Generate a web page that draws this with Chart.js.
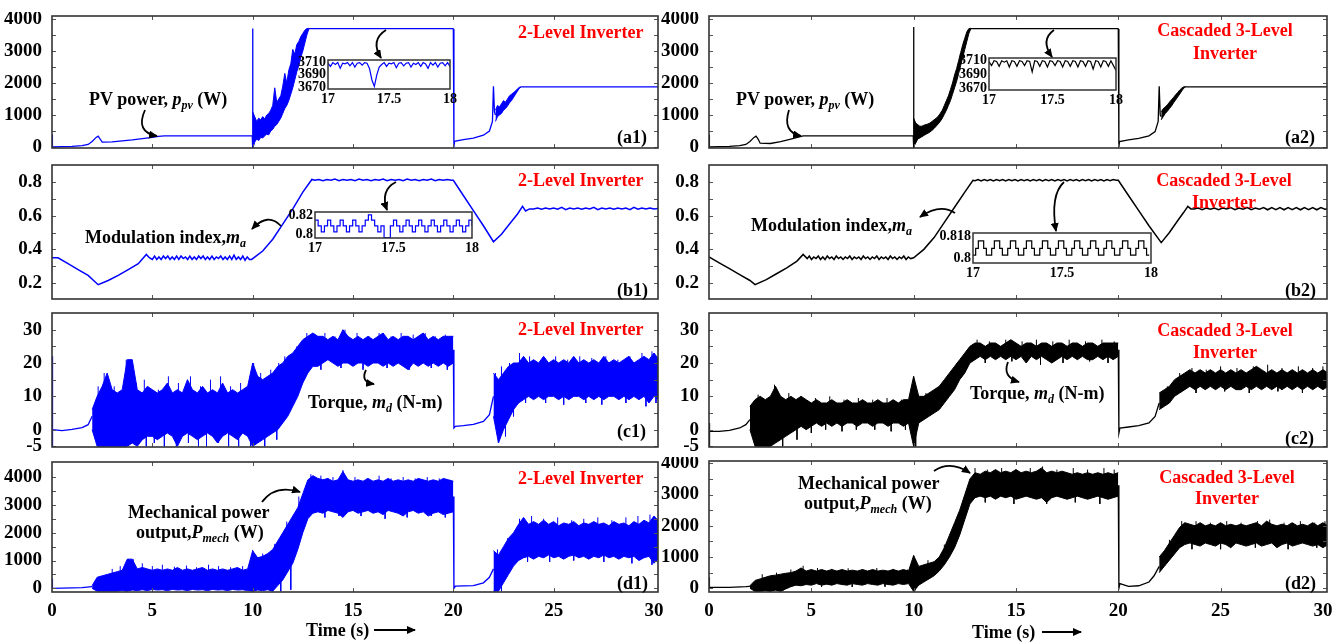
<!DOCTYPE html>
<html>
<head>
<meta charset="utf-8">
<script src="https://cdn.jsdelivr.net/npm/chart.js@4.4.1/dist/chart.umd.min.js"></script>
<style>
  body { margin: 0; background: #fff; }
  #fig { position: relative; width: 1338px; height: 642px; overflow: hidden;
         font-family: "Liberation Serif", "Times New Roman", serif; font-weight: bold; }
  #fig canvas { position: absolute; }
  .t { position: absolute; white-space: nowrap; transform: translateY(-50%); font-size: 18px; line-height: 1; color: #000; }
  .t.c { transform: translate(-50%, -50%); }
  .red { color: #ff0000; }
  .t i { font-style: italic; }
  .t sub { font-size: 12px; font-style: italic; vertical-align: -4px; line-height: 0; }
  #arrows { position: absolute; left: 0; top: 0; }
</style>
</head>
<body>
<div id="fig"></div>
<script>
function grid(start, step, n) {
  var a = [];
  for (var i = 0; i < n; i++) a.push(+(start + i * step).toFixed(3));
  return a;
}

// ---------- data ----------
var xTicks = [0, 5, 10, 15, 20, 25, 30];

// (a) PV power, W
var pvT1 = [0, 0.02, 0.5, 1, 1.5, 1.8, 2.0, 2.2, 2.3, 2.4, 2.5, 3, 3.5, 4, 4.5, 5, 5.3, 5.6, 9.98, 10.0, 10.01, 10.05, 11, 12.8, 19.98, 20.0, 20.03, 20.06, 20.5, 21, 21.5, 21.8, 21.95, 22.0, 22.05, 22.1, 23, 23.4, 30.3];
var pvP1 = [380, 0, 10, 20, 40, 80, 170, 300, 340, 250, 150, 160, 190, 220, 260, 300, 330, 350, 350, 3700, -80, 600, null, 3700, 3700, 3690, 0, 180, 230, 280, 370, 500, 800, 1900, 1100, 1000, null, 1880, 1880];
var pvBandT1 = grid(10.0, 0.1, 29);
var pvHi1 = [1100, 950, 800, 900, 850, 950, 880, 1000, 1050, 1150, 1300, 1850, 1400, 1500, 1600, 1900,
             2300, 2000, 2400, 2600, 3050, 2900, 3200, 3300, 3450, 3550, 3650, 3700, 3710];
var pvLo1 = [-80, 150, 250, 200, 300, 280, 350, 400, 380, 500, 550, 650, 700, 800, 900, 1050,
             1200, 1300, 1450, 1650, 1850, 2100, 2350, 2550, 2800, 3000, 3250, 3500, 3690];
var pvBandT1b = grid(22.1, 0.1, 14);
var pvHi1b = [1150, 1300, 1250, 1350, 1450, 1400, 1500, 1600, 1650, 1700, 1750, 1820, 1870, 1885];
var pvLo1b = [800, 950, 1000, 1050, 1150, 1200, 1280, 1380, 1450, 1550, 1650, 1750, 1840, 1880];

var pvT2 = [0, 0.02, 0.5, 1, 1.5, 1.8, 2.0, 2.2, 2.3, 2.4, 2.5, 3, 3.5, 4, 4.6, 9.98, 10.0, 10.01, 10.05, 11, 12.8, 19.98, 20.0, 20.03, 20.06, 20.5, 21, 21.5, 21.8, 21.95, 22.0, 22.05, 22.1, 23, 23.3, 30.3];
var pvP2 = [380, 0, 10, 20, 40, 80, 170, 300, 340, 250, 120, 110, 170, 250, 350, 350, 3750, -50, 500, null, 3700, 3700, 3690, 0, 170, 220, 270, 350, 480, 800, 1900, 1000, 950, null, 1880, 1880];
var pvBandT2 = grid(10.0, 0.1, 29);
var pvHi2 = [900, 750, 700, 650, 650, 680, 700, 720, 750, 800, 850, 900, 960, 1050, 1150, 1300,
             1450, 1600, 1800, 2000, 2250, 2450, 2700, 2950, 3200, 3400, 3600, 3700, 3710];
var pvLo2 = [0, 120, 250, 280, 320, 360, 400, 430, 470, 520, 580, 650, 720, 800, 900, 1020,
             1150, 1300, 1450, 1650, 1850, 2050, 2300, 2550, 2800, 3050, 3300, 3550, 3700];
var pvBandT2b = grid(22.1, 0.1, 13);
var pvHi2b = [1100, 1200, 1250, 1320, 1400, 1480, 1550, 1630, 1700, 1780, 1840, 1880, 1885];
var pvLo2b = [850, 950, 1050, 1120, 1200, 1280, 1380, 1470, 1560, 1650, 1750, 1840, 1880];

// zoom windows 17 s .. 18 s
var zoomT = grid(17, 0.02, 51);
var pvZoom1 = [3708, 3703, 3709, 3706, 3709, 3700, 3708, 3707, 3709, 3704,
               3709, 3702, 3708, 3709, 3705, 3709, 3708, 3700, 3682, 3672,
               3690, 3702, 3706, 3709, 3703, 3708, 3707, 3709, 3701, 3708,
               3709, 3704, 3708, 3709, 3702, 3708, 3706, 3709, 3703, 3709,
               3707, 3700, 3709, 3705, 3709, 3702, 3708, 3709, 3704, 3709, 3703];
var pvZoom2 = [3708, 3702, 3709, 3708, 3701, 3709, 3707, 3709, 3700, 3709,
               3708, 3701, 3709, 3708, 3702, 3709, 3708, 3693, 3709, 3708,
               3701, 3709, 3708, 3700, 3709, 3708, 3702, 3709, 3708, 3700,
               3709, 3708, 3701, 3709, 3708, 3700, 3709, 3708, 3701, 3709,
               3708, 3697, 3709, 3708, 3700, 3709, 3708, 3701, 3709, 3702, 3695];

// (b) modulation index
var maT1 = [].concat(
  [0, 0.3, 0.8, 1.3, 1.8, 2.3, 2.8, 3.3, 3.8, 4.3, 4.7, 4.85],
  grid(5.0, 0.11, 45),
  [9.95, 10.5, 11, 11.5, 12, 12.5, 12.95],
  grid(13.1, 0.2, 35),
  [20.0, 20.5, 21, 21.5, 22.0, 22.4, 22.8, 23.2, 23.45, 23.6, 23.8],
  grid(24.0, 0.2, 32), [30.3]);
var maV1 = [].concat(
  [0.35, 0.35, 0.315, 0.28, 0.245, 0.19, 0.215, 0.245, 0.28, 0.315, 0.37, 0.35],
  [0.34, 0.36, 0.34, 0.355, 0.34, 0.36, 0.345, 0.36, 0.34, 0.355,
   0.34, 0.36, 0.34, 0.36, 0.345, 0.355, 0.34, 0.36, 0.34, 0.355,
   0.34, 0.36, 0.345, 0.36, 0.34, 0.355, 0.34, 0.36, 0.34, 0.355,
   0.345, 0.36, 0.34, 0.355, 0.34, 0.36, 0.34, 0.365, 0.34, 0.355,
   0.34, 0.36, 0.335, 0.355, 0.34],
  [0.34, 0.39, 0.46, 0.55, 0.64, 0.74, 0.815],
  [0.81, 0.815, 0.808, 0.815, 0.81, 0.818, 0.808, 0.815, 0.81, 0.815,
   0.808, 0.817, 0.81, 0.815, 0.808, 0.815, 0.81, 0.818, 0.808, 0.815,
   0.81, 0.815, 0.808, 0.817, 0.81, 0.815, 0.808, 0.815, 0.81, 0.818,
   0.808, 0.815, 0.81, 0.815, 0.81],
  [0.81, 0.72, 0.63, 0.54, 0.445, 0.49, 0.55, 0.61, 0.655, 0.628, 0.64],
  [0.64, 0.645, 0.638, 0.645, 0.64, 0.645, 0.638, 0.65, 0.636, 0.645,
   0.64, 0.645, 0.638, 0.645, 0.64, 0.65, 0.636, 0.645, 0.64, 0.645,
   0.638, 0.645, 0.64, 0.645, 0.636, 0.65, 0.638, 0.645, 0.64, 0.645,
   0.64, 0.642], [0.64]);

var maT2 = [].concat(
  [0, 0.5, 1, 1.5, 2, 2.25, 2.8, 3.3, 3.8, 4.3, 4.6, 4.8],
  grid(4.9, 0.11, 46),
  [10.0, 10.5, 11, 11.5, 12, 12.5, 12.9],
  grid(13.0, 0.15, 47),
  [20.0, 20.5, 21, 21.5, 22.1, 22.5, 22.9, 23.2, 23.4, 23.55],
  grid(23.7, 0.2, 33), [30.3]);
var maV2 = [].concat(
  [0.355, 0.32, 0.285, 0.25, 0.215, 0.19, 0.22, 0.255, 0.29, 0.33, 0.37, 0.345],
  [0.36, 0.34, 0.355, 0.345, 0.36, 0.34, 0.355, 0.34, 0.36, 0.345,
   0.355, 0.34, 0.36, 0.345, 0.355, 0.34, 0.355, 0.345, 0.36, 0.34,
   0.355, 0.345, 0.355, 0.34, 0.36, 0.345, 0.355, 0.34, 0.355, 0.345,
   0.36, 0.34, 0.355, 0.345, 0.355, 0.34, 0.36, 0.345, 0.355, 0.34,
   0.355, 0.345, 0.36, 0.34, 0.355, 0.345],
  [0.35, 0.4, 0.47, 0.56, 0.65, 0.74, 0.81],
  [0.808, 0.815, 0.806, 0.814, 0.808, 0.815, 0.806, 0.814, 0.808, 0.815,
   0.806, 0.814, 0.808, 0.815, 0.806, 0.814, 0.808, 0.815, 0.806, 0.814,
   0.808, 0.815, 0.806, 0.814, 0.808, 0.815, 0.806, 0.814, 0.808, 0.815,
   0.806, 0.814, 0.808, 0.815, 0.806, 0.814, 0.808, 0.815, 0.806, 0.814,
   0.808, 0.815, 0.806, 0.814, 0.808, 0.815, 0.81],
  [0.81, 0.72, 0.63, 0.54, 0.44, 0.5, 0.57, 0.62, 0.655, 0.64],
  [0.64, 0.645, 0.636, 0.645, 0.638, 0.645, 0.636, 0.645, 0.64, 0.648,
   0.636, 0.645, 0.638, 0.648, 0.636, 0.645, 0.638, 0.648, 0.635, 0.648,
   0.636, 0.648, 0.635, 0.648, 0.636, 0.648, 0.635, 0.648, 0.636, 0.648,
   0.635, 0.648, 0.638], [0.64]);

var maZoom1 = [0.815, 0.809, 0.803, 0.809, 0.815, 0.809, 0.803, 0.809, 0.815, 0.809,
               0.803, 0.809, 0.815, 0.809, 0.803, 0.809, 0.815, 0.8205, 0.815, 0.809,
               0.803, 0.809, 0.797, 0.797, 0.809, 0.815, 0.809, 0.803, 0.809, 0.815,
               0.809, 0.803, 0.809, 0.815, 0.809, 0.803, 0.809, 0.815, 0.809, 0.803,
               0.809, 0.815, 0.809, 0.803, 0.809, 0.815, 0.809, 0.803, 0.809, 0.815, 0.809];
var zoomT2 = grid(17, 0.015, 67);
var maZoom2 = [0.8025, 0.808, 0.814, 0.814, 0.808, 0.8025, 0.8025, 0.808, 0.814, 0.814, 0.808, 0.8025,
               0.8025, 0.808, 0.814, 0.814, 0.808, 0.8025, 0.8025, 0.808, 0.814, 0.814, 0.808, 0.8025,
               0.8025, 0.808, 0.814, 0.814, 0.808, 0.8025, 0.8025, 0.808, 0.814, 0.814, 0.808, 0.8025,
               0.8025, 0.808, 0.814, 0.814, 0.808, 0.8025, 0.8025, 0.808, 0.814, 0.814, 0.808, 0.8025,
               0.8025, 0.808, 0.814, 0.814, 0.808, 0.8025, 0.8025, 0.808, 0.814, 0.814, 0.808, 0.8025,
               0.8025, 0.808, 0.814, 0.814, 0.808, 0.8025, 0.8025];

// noisy stretches: envelope (upper / lower) of the ripple
var tA = grid(2.0, 0.25, 73);   // 2 s .. 20 s
var tB = grid(22.0, 0.25, 34);  // 22 s .. 30.25 s

// (c) torque, N-m
var tqT1 = [0, 0.01, 0.04, 0.5, 1, 1.5, 1.8, 2.0, 10, 20.0, 20.03, 20.1, 20.5, 21, 21.5, 21.8, 22.0];
var tqV1 = [22, -5, 0, -0.3, 0.1, 0.6, 1.5, 4, null, 24, 0.5, 1, 1.2, 1.6, 2.5, 4.5, 10];
var tqHiA1 = [6, 10, 13, 17, 12, 11, 12, 21,  21, 12, 11, 13, 12, 11, 12, 14,
              11, 12, 11, 15, 12, 11, 13, 11,  12, 11, 14, 11, 12, 11, 12, 13,
              20, 16, 15, 16, 17, 19, 20, 22,  23, 25, 27, 28, 29, 28, 28, 27,
              28, 27, 30, 28, 27, 28, 27, 28,  27, 28, 29, 27, 28, 27, 28, 28,
              27, 28, 29, 27, 28, 27, 28, 28,  28];
var tqLoA1 = [0, -5, -5, -5, -5, -5, -5, -5,  -4, -5, -3, -2, -2, -3, -2, -1,
              -2, -5, -2, -1, -2, -3, -2, -1,  -2, -4, -2, -1, -2, -3, -1, -2,
              -5, -4, -3, -2, -1, 0, 2, 4,  7, 10, 14, 17, 19, 19, 20, 21,
              20, 19, 20, 20, 19, 20, 20, 19,  20, 20, 19, 20, 19, 20, 19, 18,
              20, 19, 20, 19, 20, 19, 20, 19,  20];
var tqHiB1 = [17, 15, 17, 19, 20, 20, 22, 20,  21, 20, 22, 20, 21, 20, 21, 20,
              22, 20, 21, 20, 21, 20, 22, 20,  21, 20, 21, 22, 20, 21, 22, 21,  23, 21];
var tqLoB1 = [4, -4, 0, 3, 6, 8, 9, 10,  9, 10, 9, 10, 10, 9, 10, 9,
              10, 10, 9, 10, 9, 10, 9, 10,  10, 9, 10, 9, 10, 9, 10, 8,  10, 9];
var tqSpkT1 = [2.3, 2.6, 3.1, 3.7, 3.95, 4.2, 4.6, 5.3, 5.8, 6.3, 6.9, 7.4, 7.9, 8.4, 8.9, 9.4, 9.8, 10.05, 10.4, 10.9,
               11.3, 11.6, 12.2, 12.7, 13.2, 13.6, 14.1, 14.6, 15.2, 15.8, 16.3, 16.9, 17.4, 18.0, 18.6, 19.1, 19.6, 22.1, 22.4, 22.8,
               23.3, 23.8, 24.4, 25.1, 25.7, 26.3, 26.9, 27.6, 28.2, 28.8, 29.4, 29.9,
               4.7, 5.1, 5.6, 6.2, 6.8, 7.3, 7.7, 8.3, 8.8, 9.3, 9.9, 10.6, 11.2, 13.4, 14.4, 15.5, 16.7, 17.8, 18.9, 19.7,
               22.25, 22.6, 23.0, 23.6, 24.6, 25.5, 26.6, 27.4, 28.6, 29.6, 30.1];
var tqSpkV1 = [13, 17, 13, 21, 21, 14, 15, 12, 16, 14, 16, 13, 15, 16, 13, 14, 13, 20, 17, 18,
               20, 22, 25, 29, 28, 29, 28, 30, 29, 28, 29, 28, 29, 28.5, 29, 28, 28.5, 17, 19, 20,
               23, 22, 21, 22, 21, 22, 21.5, 22, 21, 22, 23, 23.5,
               -5, -4, -5, -5, -4, -5, -5, -4, -5, -5, -5, -5, -3, 18, 18.5, 18, 18.5, 18, 18.5, 18,
               -4, -2, 4, 8, 8, 7.5, 8, 7.5, 8, 7, 8];

var tqT2 = [0, 0.01, 0.04, 0.5, 1, 1.5, 1.8, 2.0, 10, 20.0, 20.03, 20.08, 20.5, 21, 21.5, 21.8, 22.0];
var tqV2 = [2, -5, -0.5, -0.5, -0.2, 0.5, 1.5, 3, null, 24, -1, 0.5, 0.8, 1.2, 2, 4, 8];
var tqHiA2 = [7, 9, 10, 9, 10, 13, 10, 9,  10, 9, 10, 9, 8, 9, 8, 8,
              9, 8, 8, 9, 8, 8, 9, 8,  8, 9, 8, 8, 9, 8, 9, 9,
              16, 10, 10, 11, 12, 13, 15, 17,  19, 21, 23, 25, 26, 26, 25, 26,
              26, 25, 26, 27, 26, 25, 26, 26,  25, 26, 26, 25, 26, 26, 25, 26,
              26, 25, 26, 26, 25, 26, 26, 26,  26];
var tqLoA2 = [0, -5, -5, -5, -5, -4, -3, -2,  -1, 0, 1, 0, 1, 2, 1, 2,
              1, 2, 1, 2, 2, 1, 2, 2,  1, 2, 2, 1, 2, 2, 1, 2,
              -5, 2, 3, 4, 5, 6, 8, 10,  12, 15, 17, 20, 21, 22, 21, 22,
              21, 22, 21, 22, 21, 22, 20, 22,  21, 22, 21, 20, 21, 22, 21, 22,
              21, 22, 21, 21, 22, 21, 22, 21,  22];
var tqHiB2 = [11, 12, 13, 15, 16, 17, 18, 17,  18, 17, 18, 17, 18, 17, 18, 17,
              18, 17, 18, 19, 18, 17, 18, 17,  18, 17, 18, 17, 18, 17, 18, 17,  18, 17];
var tqLoB2 = [6, 7, 8, 10, 11, 12, 13, 12,  13, 12, 13, 12, 13, 12, 13, 12,
              12, 13, 12, 13, 12, 13, 12, 13,  12, 13, 12, 13, 12, 13, 12, 13,  12, 13];
var tqSpkT2 = [2.4, 3.2, 3.9, 4.5, 5.2, 5.9, 6.6, 7.3, 8.0, 8.7, 9.4, 10.0, 10.6, 11.4, 12.1, 13.1, 13.7, 14.5, 15.3, 16.0,
               16.8, 17.6, 18.4, 19.2, 19.8, 22.4, 23.0, 23.6, 24.3, 25.0, 25.8, 26.6, 27.3, 28.0, 28.8, 29.5, 30.0,
               2.9, 3.6, 4.3, 5.0, 5.7, 6.5, 7.2, 8.1, 8.9, 9.6, 10.1, 13.5, 14.8, 16.2, 17.3, 18.6, 19.5, 23.8, 25.2, 26.4,
               27.8, 29.0];
var tqSpkV2 = [10.5, 13.5, 11, 10, 9.5, 10, 9, 9.5, 9, 9.5, 9, 16, 11, 14, 20, 27, 26.5, 27, 26.5, 27,
               26.5, 27, 26.5, 27, 26.5, 13, 17, 18.5, 18, 19, 18.5, 19, 19.5, 18.5, 19, 18.5, 19,
               -5, -5, -3, -1, 0, -0.5, 0, 0, -0.5, 0, -5, 20, 20.5, 19.5, 20, 20.5, 20, 11, 11.5, 11,
               11.5, 11];

// (d) mechanical power output, W
var pmT1 = [0, 0.02, 0.5, 1.5, 2.0, 10, 20.0, 20.03, 20.1, 21, 21.5, 21.8, 22.0];
var pmV1 = [350, 0, 10, 30, 60, null, 3300, 0, 80, 100, 200, 400, 700];
var pmHiA1 = [100, 400, 450, 500, 550, 600, 650, 1050,  1050, 700, 750, 700, 650, 700, 650, 700,
              650, 750, 650, 700, 650, 700, 750, 650,  700, 650, 700, 650, 700, 750, 650, 700,
              1350, 1100, 1150, 1250, 1400, 1700, 2000, 2300,  2600, 2900, 3400, 3900, 4050, 3950, 3900, 3950,
              3850, 3900, 4200, 3900, 3850, 3900, 3850, 3950,  3850, 3900, 3850, 3950, 3850, 3900, 3850, 3900,
              3850, 3950, 3900, 3850, 3900, 3850, 3950, 3900,  3850];
var pmLoA1 = [0, -100, -100, -100, -100, -100, -80, -100,  -60, -80, -50, -80, -40, -60, -50, -80,
              -40, -60, -50, -80, -40, -60, -50, -80,  -40, -60, -50, -80, -40, -60, -50, -80,
              -100, -60, -80, -50, -100, 100, 300, 600,  900, 1400, 2000, 2500, 2700, 2750, 2700, 2800,
              2750, 2700, 2550, 2750, 2800, 2700, 2750, 2800,  2700, 2750, 2650, 2800, 2750, 2700, 2600, 2750,
              2800, 2700, 2750, 2600, 2700, 2750, 2650, 2700,  2750];
var pmHiB1 = [1350, 1200, 1500, 1800, 2000, 2300, 2550, 2300,  2400, 2300, 2450, 2300, 2400, 2250, 2350, 2300,
              2400, 2250, 2350, 2300, 2400, 2300, 2350, 2250,  2400, 2300, 2350, 2250, 2400, 2300, 2450, 2350,  2600, 2400];
var pmLoB1 = [-100, -100, 200, 500, 800, 1000, 1100, 1150,  1050, 1150, 1100, 1200, 1100, 1150, 1050, 1150,
              1200, 1100, 1150, 1050, 1150, 1100, 1200, 1100,  1150, 1050, 1150, 1100, 1150, 1000, 1100, 1150,  900, 1100];
var pmSpkT1 = [3.0, 3.4, 3.8, 4.05, 4.5, 5.0, 5.5, 6.1, 6.7, 7.2, 7.8, 8.3, 8.9, 9.5, 10.0, 10.5, 11.1, 11.7, 12.3, 12.9,
               13.4, 14.0, 14.5, 15.1, 15.7, 16.3, 16.9, 17.5, 18.1, 18.7, 19.3, 19.8, 22.2, 22.7, 23.3, 23.9, 24.5, 25.2, 25.9, 26.5,
               27.2, 27.9, 28.6, 29.2, 29.8, 30.1,
               11.4, 11.9, 13.6, 14.3, 15.4, 16.6, 17.7, 18.9, 19.6, 22.4, 23.7, 24.8, 26.0, 27.5, 28.9, 29.9];
var pmSpkV1 = [700, 800, 1050, 1050, 900, 800, 850, 780, 820, 760, 850, 800, 760, 800, 1380, 1250, 1600, 2400, 3300, 4100,
               4050, 4000, 4250, 4000, 3950, 4050, 3950, 4000, 3950, 4000, 3950, 3900, 1400, 1800, 2500, 2600, 2500, 2550, 2450, 2500,
               2550, 2450, 2550, 2600, 2650, 2500,
               -100, -50, 2550, 2600, 2600, 2500, 2550, 2600, 2550, -100, 950, 950, 1000, 950, 900, 850];

var pmT2 = [0, 0.02, 1, 1.8, 2.0, 10, 20.0, 20.03, 20.08, 20.5, 21, 21.5, 21.75, 22.0];
var pmV2 = [350, 30, 30, 50, 60, null, 3300, 0, 150, 60, 80, 200, 400, 700];
var pmHiA2 = [80, 250, 300, 350, 400, 420, 450, 480,  500, 550, 650, 550, 600, 550, 600, 550,
              600, 550, 600, 550, 580, 550, 600, 550,  600, 550, 580, 550, 600, 550, 600, 550,
              1050, 700, 750, 800, 850, 1000, 1300, 1700,  2100, 2500, 3000, 3500, 3700, 3650, 3750, 3700,
              3800, 3700, 3750, 3700, 3800, 3700, 3750, 3700,  3750, 3850, 3700, 3750, 3700, 3750, 3700, 3650,
              3700, 3650, 3700, 3650, 3700, 3650, 3700, 3650,  3700];
var pmLoA2 = [0, -100, -100, -80, -100, -60, -100, -20,  50, 100, 80, 120, 100, 150, 100, 130,
              100, 150, 120, 100, 150, 120, 100, 150,  120, 100, 150, 120, 100, 150, 120, 150,
              -100, 100, 200, 300, 400, 550, 750, 1000,  1300, 1700, 2200, 2700, 2900, 2950, 2900, 2950,
              2850, 2950, 2900, 2950, 2850, 2900, 2950, 2900,  2850, 2900, 2750, 2900, 2950, 2900, 2850, 2900,
              2950, 2900, 2850, 2900, 2950, 2900, 2850, 2900,  2950];
var pmHiB2 = [1000, 1200, 1450, 1700, 1950, 2100, 2050, 2000,  2100, 2000, 2050, 2000, 2100, 2000, 2050, 2000,
              2050, 2000, 2050, 2100, 2000, 2150, 2050, 2000,  2050, 2000, 2100, 2000, 2050, 2000, 2100, 2000,  2100, 2000];
var pmLoB2 = [500, 700, 900, 1100, 1300, 1400, 1450, 1400,  1350, 1450, 1400, 1350, 1450, 1400, 1300, 1450,
              1400, 1350, 1400, 1450, 1350, 1400, 1450, 1300,  1400, 1450, 1350, 1400, 1450, 1400, 1350, 1400,  1300, 1400];
var pmSpkT2 = [2.6, 3.3, 4.0, 4.6, 5.3, 6.0, 6.8, 7.5, 8.2, 9.0, 9.7, 10.0, 10.7, 11.5, 12.2, 13.0, 13.6, 14.3, 15.0, 15.7,
               16.3, 17.0, 17.8, 18.5, 19.3, 19.8, 22.5, 23.1, 23.8, 24.5, 25.3, 26.0, 26.8, 27.4, 28.1, 28.9, 29.6, 30.1,
               2.4, 3.0, 3.6, 5.5, 7.0, 8.6, 10.05, 13.5, 14.9, 16.5, 17.9, 19.1, 23.6, 25.0, 26.7, 28.3, 29.7];
var pmSpkV2 = [450, 500, 600, 720, 650, 620, 640, 600, 650, 620, 600, 1050, 900, 1400, 2400, 3850, 3800, 3850, 3800, 3850,
               3900, 3800, 3850, 3800, 3850, 3800, 1550, 2150, 2150, 2100, 2150, 2100, 2150, 2200, 2100, 2150, 2100, 2150,
               -100, -100, -80, 50, 40, 50, -100, 2750, 2700, 2700, 2750, 2700, 1250, 1250, 1300, 1250, 1300];

// ---------- drawing ----------
var fig = document.getElementById('fig');
var SERIF = '"Liberation Serif", "Times New Roman", serif';
var BLUE = '#0000ff', BLACK = '#000000';

function pts(t, v) { return t.map(function (x, i) { return {x: x, y: v[i]}; }); }
function line(t, v, color, w) {
  return {data: pts(t, v), borderColor: color, borderWidth: w || 1.3, fill: false, spanGaps: false};
}
function band(t, hi, lo, color) {
  return [
    {data: pts(t, hi), borderColor: color, backgroundColor: color, borderWidth: 1, fill: '+1'},
    {data: pts(t, lo), borderColor: color, borderWidth: 1, fill: false}
  ];
}
// thin spikes sticking out of the ripple band: from the band centre to the spike tip
function spikes(t, tip, envT, hi, lo, color) {
  var data = [];
  t.forEach(function (x, i) {
    var k = 0;
    envT.forEach(function (e, j) { if (Math.abs(e - x) < Math.abs(envT[k] - x)) k = j; });
    data.push({x: x, y: (hi[k] + lo[k]) / 2}, {x: x, y: tip[i]}, {x: x, y: null});
  });
  return {data: data, borderColor: color, borderWidth: 1, fill: false, spanGaps: false};
}

var frame = {
  id: 'frame',
  beforeDatasetsDraw: function (c, args, o) {
    if (!o.bg) return;
    var a = c.chartArea;
    c.ctx.save();
    c.ctx.fillStyle = '#fff';
    c.ctx.fillRect(a.left, a.top, a.right - a.left, a.bottom - a.top);
    c.ctx.restore();
  },
  afterDraw: function (c, args, o) {
    var a = c.chartArea, ctx = c.ctx, len = o.tick || 4;
    ctx.save();
    ctx.strokeStyle = '#555';
    ctx.lineWidth = 1;
    ctx.beginPath();
    (o.yMarks || []).forEach(function (v) {
      var y = Math.round(c.scales.y.getPixelForValue(v)) + 0.5;
      ctx.moveTo(a.left, y); ctx.lineTo(a.left + len, y);
      ctx.moveTo(a.right, y); ctx.lineTo(a.right - len, y);
    });
    (o.xMarks || []).forEach(function (v) {
      var x = Math.round(c.scales.x.getPixelForValue(v)) + 0.5;
      ctx.moveTo(x, a.bottom); ctx.lineTo(x, a.bottom - len);
      ctx.moveTo(x, a.top); ctx.lineTo(x, a.top + len);
    });
    ctx.stroke();
    ctx.strokeStyle = '#333';
    ctx.lineWidth = o.lw || 1.6;
    ctx.strokeRect(a.left, a.top, a.right - a.left, a.bottom - a.top);
    ctx.restore();
  }
};

function panel(cfg) {
  var padL = cfg.padL || 60, padT = 4, padR = 8, padB = cfg.padB || 4;
  var w = cfg.box[2] - cfg.box[0], h = cfg.box[3] - cfg.box[1];
  var cv = document.createElement('canvas');
  cv.width = w + padL + padR;
  cv.height = h + padT + padB;
  cv.style.left = (cfg.box[0] - padL) + 'px';
  cv.style.top = (cfg.box[1] - padT) + 'px';
  fig.appendChild(cv);
  var font = {family: SERIF, size: cfg.fs || 19, weight: 'bold'};
  return new Chart(cv.getContext('2d'), {
    type: 'line',
    data: {datasets: cfg.datasets},
    options: {
      responsive: false, animation: false, events: [],
      layout: {padding: {left: 0, top: padT, right: padR, bottom: 0}},
      plugins: {legend: {display: false}, tooltip: {enabled: false}, frame: cfg.frame || {}},
      elements: {point: {radius: 0}, line: {tension: 0}},
      scales: {
        x: {
          type: 'linear', min: cfg.x[0], max: cfg.x[1],
          grid: {display: false, drawTicks: false}, border: {display: false},
          ticks: {display: !!cfg.xLabels, autoSkip: false, maxRotation: 0, padding: cfg.xPad || 8,
                  color: '#000', font: font, callback: function (v) { return String(v); }},
          afterBuildTicks: function (s) { s.ticks = cfg.xTicks.map(function (v) { return {value: v}; }); },
          afterFit: function (s) { s.height = padB; s.paddingLeft = 0; s.paddingRight = 0; }
        },
        y: {
          min: cfg.y[0], max: cfg.y[1],
          grid: {display: false, drawTicks: false}, border: {display: false},
          ticks: {autoSkip: false, padding: cfg.yPad || 10, color: '#000', font: font,
                  callback: function (v) { return String(v); }},
          afterBuildTicks: function (s) { s.ticks = cfg.yTicks.map(function (v) { return {value: v}; }); },
          afterFit: function (s) { s.width = padL; s.paddingTop = 0; s.paddingBottom = 0; }
        }
      }
    },
    plugins: [frame]
  });
}

var L = [52, 658], R = [709, 1327];
var rowA = [16, 148], rowB = [165, 299], rowC = [313, 447], rowD1 = [462, 592], rowD2 = [461, 592];
var marksX = [5, 10, 15, 20, 25];
var marksA = [0, 500, 1000, 1500, 2000, 2500, 3000, 3500, 4000];
var marksB = [0.2, 0.3, 0.4, 0.5, 0.6, 0.7, 0.8];
var marksC = [-5, 0, 5, 10, 15, 20, 25, 30];
var marksD = [0, 500, 1000, 1500, 2000, 2500, 3000, 3500, 4000];

function mainPanels(col, set) {
  var xr = [0, 30.2];
  panel({box: [col[0], rowA[0], col[1], rowA[1]], x: xr, y: [-31, 4094], xTicks: xTicks, yTicks: [0, 1000, 2000, 3000, 4000],
         frame: {yMarks: marksA, xMarks: marksX}, datasets: set.a});
  panel({box: [col[0], rowB[0], col[1], rowB[1]], x: xr, y: [0.105, 0.901], xTicks: xTicks, yTicks: [0.2, 0.4, 0.6, 0.8],
         frame: {yMarks: marksB, xMarks: marksX}, datasets: set.b});
  panel({box: [col[0], rowC[0], col[1], rowC[1]], x: xr, y: [-5.2, 35], xTicks: xTicks, yTicks: [-5, 0, 10, 20, 30],
         frame: {yMarks: marksC, xMarks: marksX}, datasets: set.c});
  var rd = set.rowD;
  panel({box: [col[0], rd[0], col[1], rd[1]], x: xr, y: set.dRange, xTicks: xTicks, yTicks: [0, 1000, 2000, 3000, 4000],
         xLabels: true, padB: 34, xPad: 8, frame: {yMarks: marksD, xMarks: marksX}, datasets: set.d});
}

var tAB = tA.concat(tB);
mainPanels(L, {
  a: [line(pvT1, pvP1, BLUE)].concat(band(pvBandT1, pvHi1, pvLo1, BLUE), band(pvBandT1b, pvHi1b, pvLo1b, BLUE)),
  b: [line(maT1, maV1, BLUE, 1.5)],
  c: [line(tqT1, tqV1, BLUE), spikes(tqSpkT1, tqSpkV1, tAB, tqHiA1.concat(tqHiB1), tqLoA1.concat(tqLoB1), BLUE)]
       .concat(band(tA, tqHiA1, tqLoA1, BLUE), band(tB, tqHiB1, tqLoB1, BLUE)),
  d: [line(pmT1, pmV1, BLUE), spikes(pmSpkT1, pmSpkV1, tAB, pmHiA1.concat(pmHiB1), pmLoA1.concat(pmLoB1), BLUE)]
       .concat(band(tA, pmHiA1, pmLoA1, BLUE), band(tB, pmHiB1, pmLoB1, BLUE)),
  rowD: rowD1, dRange: [-130, 4540]
});
mainPanels(R, {
  a: [line(pvT2, pvP2, BLACK)].concat(band(pvBandT2, pvHi2, pvLo2, BLACK), band(pvBandT2b, pvHi2b, pvLo2b, BLACK)),
  b: [line(maT2, maV2, BLACK, 1.5)],
  c: [line(tqT2, tqV2, BLACK), spikes(tqSpkT2, tqSpkV2, tAB, tqHiA2.concat(tqHiB2), tqLoA2.concat(tqLoB2), BLACK)]
       .concat(band(tA, tqHiA2, tqLoA2, BLACK), band(tB, tqHiB2, tqLoB2, BLACK)),
  d: [line(pmT2, pmV2, BLACK), spikes(pmSpkT2, pmSpkV2, tAB, pmHiA2.concat(pmHiB2), pmLoA2.concat(pmLoB2), BLACK)]
       .concat(band(tA, pmHiA2, pmLoA2, BLACK), band(tB, pmHiB2, pmLoB2, BLACK)),
  rowD: rowD2, dRange: [-120, 4075]
});

// zoomed insets
function inset(box, yr, yTicks, ds) {
  panel({box: box, x: [17, 18], y: yr, xTicks: [17, 17.5, 18], yTicks: yTicks, xLabels: true,
         padL: 36, padB: 17, fs: 14, yPad: 2, xPad: 2, frame: {bg: true, lw: 1.5, tick: 2}, datasets: ds});
}
inset([328, 60, 450, 89], [3668, 3713], [3670, 3690, 3710], [line(zoomT, pvZoom1, BLUE, 1.2)]);
inset([989, 58, 1116, 90], [3667, 3713], [3670, 3690, 3710], [line(zoomT, pvZoom2, BLACK, 1.2)]);
var mz1 = line(zoomT, maZoom1, BLUE, 1.2); mz1.stepped = 'before';
inset([315, 212, 472, 238], [0.7966, 0.8234], [0.8, 0.82], [mz1]);
var mz2 = line(zoomT2, maZoom2, BLACK, 1.2); mz2.stepped = 'before';
inset([973, 233, 1151, 263], [0.796, 0.8205], [0.8, 0.818], [mz2]);

// ---------- annotations ----------
function txt(x, y, html, cls, size) {
  var d = document.createElement('div');
  d.className = 't' + (cls ? ' ' + cls : '');
  d.style.left = x + 'px';
  d.style.top = y + 'px';
  if (size) d.style.fontSize = size + 'px';
  d.innerHTML = html;
  fig.appendChild(d);
}
var pvLabel = 'PV power, <i>p</i><sub>pv</sub> (W)';
var maLabel = 'Modulation index,<i>m</i><sub>a</sub>';
var tqLabel = 'Torque, <i>m</i><sub>d</sub> (N-m)';

txt(89, 99, pvLabel); txt(518, 32, '2-Level Inverter', 'red'); txt(617, 137, '(a1)');
txt(736, 99, pvLabel); txt(1225, 30, 'Cascaded 3-Level', 'red c'); txt(1225, 53, 'Inverter', 'red c'); txt(1285, 137, '(a2)');
txt(85, 237, maLabel); txt(518, 180, '2-Level Inverter', 'red'); txt(617, 290, '(b1)');
txt(751, 225, maLabel); txt(1224, 180, 'Cascaded 3-Level', 'red c'); txt(1224, 202, 'Inverter', 'red c'); txt(1285, 290, '(b2)');
txt(308, 402, tqLabel); txt(518, 329, '2-Level Inverter', 'red'); txt(617, 431, '(c1)');
txt(970, 393, tqLabel); txt(1225, 330, 'Cascaded 3-Level', 'red c'); txt(1225, 352, 'Inverter', 'red c'); txt(1285, 438, '(c2)');
txt(128, 512, 'Mechanical power'); txt(136, 532, 'output,<i>P</i><sub>mech</sub> (W)');
txt(518, 478, '2-Level Inverter', 'red'); txt(617, 583, '(d1)');
txt(798, 483, 'Mechanical power'); txt(804, 503, 'output,<i>P</i><sub>mech</sub> (W)');
txt(1227, 477, 'Cascaded 3-Level', 'red c'); txt(1227, 498, 'Inverter', 'red c'); txt(1285, 583, '(d2)');
txt(306, 630, 'Time (s)'); txt(972, 632, 'Time (s)');

var arrows = [
  'M386,30 Q370,40 381,58', 'M1054,30 Q1040,40 1052,57',
  'M145,110 Q135,132 157,136', 'M789,110 Q782,132 801,136',
  'M281,226 Q268,212 252,229', 'M955,213 Q940,203 920,217',
  'M396,182 Q380,190 387,210', 'M1064,182 Q1050,195 1056,231',
  'M366,370 Q360,382 374,384', 'M1008,362 Q1002,377 1019,382',
  'M262,502 Q275,484 300,492', 'M934,471 Q950,460 970,473',
  'M374,630 L415,630', 'M1042,632 L1081,632'
];
var svg = '<svg id="arrows" width="1338" height="642" xmlns="http://www.w3.org/2000/svg">' +
  '<defs><marker id="ah" markerWidth="9" markerHeight="8" refX="8" refY="4" orient="auto" markerUnits="userSpaceOnUse">' +
  '<path d="M0,0 L9,4 L0,8 z" fill="#000"/></marker></defs>' +
  arrows.map(function (d) { return '<path d="' + d + '" fill="none" stroke="#000" stroke-width="1.8" marker-end="url(#ah)"/>'; }).join('') +
  '</svg>';
fig.insertAdjacentHTML('beforeend', svg);
</script>
</body>
</html>
